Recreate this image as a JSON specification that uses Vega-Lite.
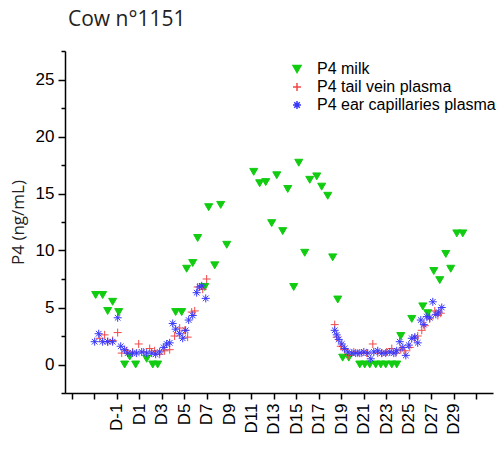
{
  "$schema": "https://vega.github.io/schema/vega-lite/v6.json",
  "autosize": "none",
  "width": 428,
  "height": 342,
  "padding": {"left": 65, "top": 51, "right": 10, "bottom": 56},
  "background": "white",
  "config": {"view": {"stroke": null}, "font": "Liberation Sans"},
  "title": {"text": "Cow n°1151", "anchor": "start", "frame": "group", "dx": 3, "offset": 12, "font": "Open Sans", "fontSize": 21, "fontWeight": "normal", "color": "#222222"},
  "data": {"values": [
    {"series": "P4 milk", "day": -2.87, "p4": 6.1},
    {"series": "P4 milk", "day": -2.25, "p4": 6.1},
    {"series": "P4 milk", "day": -1.80, "p4": 4.7},
    {"series": "P4 milk", "day": -1.36, "p4": 5.5},
    {"series": "P4 milk", "day": -0.82, "p4": 4.6},
    {"series": "P4 milk", "day": -0.29, "p4": 0},
    {"series": "P4 milk", "day": 0.16, "p4": 0.7},
    {"series": "P4 milk", "day": 0.69, "p4": 0},
    {"series": "P4 milk", "day": 1.67, "p4": 0.5},
    {"series": "P4 milk", "day": 2.21, "p4": 0},
    {"series": "P4 milk", "day": 2.65, "p4": 0},
    {"series": "P4 milk", "day": 4.25, "p4": 4.6},
    {"series": "P4 milk", "day": 4.79, "p4": 4.6},
    {"series": "P4 milk", "day": 5.23, "p4": 8.4},
    {"series": "P4 milk", "day": 5.77, "p4": 8.9},
    {"series": "P4 milk", "day": 6.21, "p4": 11.1},
    {"series": "P4 milk", "day": 6.84, "p4": 6.8},
    {"series": "P4 milk", "day": 7.19, "p4": 13.8},
    {"series": "P4 milk", "day": 7.73, "p4": 8.7},
    {"series": "P4 milk", "day": 8.26, "p4": 14.0},
    {"series": "P4 milk", "day": 8.80, "p4": 10.5},
    {"series": "P4 milk", "day": 11.20, "p4": 16.9},
    {"series": "P4 milk", "day": 11.73, "p4": 15.9},
    {"series": "P4 milk", "day": 12.27, "p4": 16.0},
    {"series": "P4 milk", "day": 12.80, "p4": 12.4},
    {"series": "P4 milk", "day": 13.25, "p4": 16.6},
    {"series": "P4 milk", "day": 13.78, "p4": 11.7},
    {"series": "P4 milk", "day": 14.23, "p4": 15.4},
    {"series": "P4 milk", "day": 14.76, "p4": 6.8},
    {"series": "P4 milk", "day": 15.21, "p4": 17.7},
    {"series": "P4 milk", "day": 15.74, "p4": 9.8},
    {"series": "P4 milk", "day": 16.19, "p4": 16.2},
    {"series": "P4 milk", "day": 16.81, "p4": 16.5},
    {"series": "P4 milk", "day": 17.25, "p4": 15.6},
    {"series": "P4 milk", "day": 17.79, "p4": 14.8},
    {"series": "P4 milk", "day": 18.23, "p4": 9.4},
    {"series": "P4 milk", "day": 18.68, "p4": 5.7},
    {"series": "P4 milk", "day": 19.12, "p4": 0.6},
    {"series": "P4 milk", "day": 19.66, "p4": 0.6},
    {"series": "P4 milk", "day": 20.64, "p4": 0},
    {"series": "P4 milk", "day": 21.08, "p4": 0},
    {"series": "P4 milk", "day": 21.53, "p4": 0},
    {"series": "P4 milk", "day": 22.06, "p4": 0},
    {"series": "P4 milk", "day": 22.51, "p4": 0},
    {"series": "P4 milk", "day": 22.95, "p4": 0},
    {"series": "P4 milk", "day": 23.49, "p4": 0},
    {"series": "P4 milk", "day": 23.93, "p4": 0},
    {"series": "P4 milk", "day": 24.29, "p4": 2.5},
    {"series": "P4 milk", "day": 25.27, "p4": 4.0},
    {"series": "P4 milk", "day": 26.25, "p4": 5.1},
    {"series": "P4 milk", "day": 26.69, "p4": 4.5},
    {"series": "P4 milk", "day": 27.23, "p4": 8.2},
    {"series": "P4 milk", "day": 27.76, "p4": 7.4},
    {"series": "P4 milk", "day": 28.30, "p4": 9.7},
    {"series": "P4 milk", "day": 28.74, "p4": 8.4},
    {"series": "P4 milk", "day": 29.28, "p4": 11.5},
    {"series": "P4 milk", "day": 29.81, "p4": 11.5},

    {"series": "P4 tail vein plasma", "day": -2.51, "p4": 2.3},
    {"series": "P4 tail vein plasma", "day": -2.07, "p4": 2.6},
    {"series": "P4 tail vein plasma", "day": -1.80, "p4": 2.0},
    {"series": "P4 tail vein plasma", "day": -1.36, "p4": 2.1},
    {"series": "P4 tail vein plasma", "day": -0.91, "p4": 2.8},
    {"series": "P4 tail vein plasma", "day": -0.55, "p4": 1.0},
    {"series": "P4 tail vein plasma", "day": -0.11, "p4": 1.2},
    {"series": "P4 tail vein plasma", "day": 0.42, "p4": 1.1},
    {"series": "P4 tail vein plasma", "day": 0.96, "p4": 1.8},
    {"series": "P4 tail vein plasma", "day": 1.40, "p4": 1.1},
    {"series": "P4 tail vein plasma", "day": 1.94, "p4": 1.4},
    {"series": "P4 tail vein plasma", "day": 2.38, "p4": 1.2},
    {"series": "P4 tail vein plasma", "day": 2.83, "p4": 0.9},
    {"series": "P4 tail vein plasma", "day": 3.27, "p4": 1.2},
    {"series": "P4 tail vein plasma", "day": 3.72, "p4": 1.3},
    {"series": "P4 tail vein plasma", "day": 4.16, "p4": 2.5},
    {"series": "P4 tail vein plasma", "day": 4.61, "p4": 3.2},
    {"series": "P4 tail vein plasma", "day": 5.06, "p4": 3.0},
    {"series": "P4 tail vein plasma", "day": 5.32, "p4": 2.4},
    {"series": "P4 tail vein plasma", "day": 5.68, "p4": 4.6},
    {"series": "P4 tail vein plasma", "day": 5.95, "p4": 4.7},
    {"series": "P4 tail vein plasma", "day": 6.21, "p4": 6.8},
    {"series": "P4 tail vein plasma", "day": 6.66, "p4": 6.6},
    {"series": "P4 tail vein plasma", "day": 7.01, "p4": 7.5},
    {"series": "P4 tail vein plasma", "day": 18.41, "p4": 3.5},
    {"series": "P4 tail vein plasma", "day": 18.59, "p4": 2.4},
    {"series": "P4 tail vein plasma", "day": 18.95, "p4": 1.6},
    {"series": "P4 tail vein plasma", "day": 19.30, "p4": 1.3},
    {"series": "P4 tail vein plasma", "day": 19.66, "p4": 0.8},
    {"series": "P4 tail vein plasma", "day": 20.11, "p4": 1.1},
    {"series": "P4 tail vein plasma", "day": 20.46, "p4": 1.0},
    {"series": "P4 tail vein plasma", "day": 20.82, "p4": 1.0},
    {"series": "P4 tail vein plasma", "day": 21.26, "p4": 1.0},
    {"series": "P4 tail vein plasma", "day": 21.80, "p4": 1.8},
    {"series": "P4 tail vein plasma", "day": 22.24, "p4": 1.0},
    {"series": "P4 tail vein plasma", "day": 22.60, "p4": 1.0},
    {"series": "P4 tail vein plasma", "day": 23.04, "p4": 1.1},
    {"series": "P4 tail vein plasma", "day": 23.49, "p4": 1.4},
    {"series": "P4 tail vein plasma", "day": 23.85, "p4": 1.0},
    {"series": "P4 tail vein plasma", "day": 24.29, "p4": 1.3},
    {"series": "P4 tail vein plasma", "day": 24.65, "p4": 1.2},
    {"series": "P4 tail vein plasma", "day": 25.09, "p4": 1.5},
    {"series": "P4 tail vein plasma", "day": 25.54, "p4": 2.3},
    {"series": "P4 tail vein plasma", "day": 25.80, "p4": 2.5},
    {"series": "P4 tail vein plasma", "day": 26.16, "p4": 3.0},
    {"series": "P4 tail vein plasma", "day": 26.43, "p4": 3.4},
    {"series": "P4 tail vein plasma", "day": 26.87, "p4": 4.0},
    {"series": "P4 tail vein plasma", "day": 27.32, "p4": 4.7},
    {"series": "P4 tail vein plasma", "day": 27.59, "p4": 4.3},
    {"series": "P4 tail vein plasma", "day": 27.85, "p4": 4.5},

    {"series": "P4 ear capillaries plasma", "day": -2.96, "p4": 2.0},
    {"series": "P4 ear capillaries plasma", "day": -2.60, "p4": 2.7},
    {"series": "P4 ear capillaries plasma", "day": -2.25, "p4": 2.0},
    {"series": "P4 ear capillaries plasma", "day": -1.80, "p4": 2.0},
    {"series": "P4 ear capillaries plasma", "day": -1.36, "p4": 2.0},
    {"series": "P4 ear capillaries plasma", "day": -0.91, "p4": 4.1},
    {"series": "P4 ear capillaries plasma", "day": -0.64, "p4": 1.6},
    {"series": "P4 ear capillaries plasma", "day": -0.29, "p4": 1.3},
    {"series": "P4 ear capillaries plasma", "day": -0.02, "p4": 1.0},
    {"series": "P4 ear capillaries plasma", "day": 0.42, "p4": 1.0},
    {"series": "P4 ear capillaries plasma", "day": 0.78, "p4": 1.0},
    {"series": "P4 ear capillaries plasma", "day": 1.23, "p4": 1.1},
    {"series": "P4 ear capillaries plasma", "day": 1.67, "p4": 1.0},
    {"series": "P4 ear capillaries plasma", "day": 2.12, "p4": 1.0},
    {"series": "P4 ear capillaries plasma", "day": 2.47, "p4": 0.9},
    {"series": "P4 ear capillaries plasma", "day": 2.83, "p4": 1.1},
    {"series": "P4 ear capillaries plasma", "day": 3.19, "p4": 1.5},
    {"series": "P4 ear capillaries plasma", "day": 3.45, "p4": 1.8},
    {"series": "P4 ear capillaries plasma", "day": 3.72, "p4": 1.9},
    {"series": "P4 ear capillaries plasma", "day": 3.99, "p4": 3.6},
    {"series": "P4 ear capillaries plasma", "day": 4.25, "p4": 3.1},
    {"series": "P4 ear capillaries plasma", "day": 4.61, "p4": 2.7},
    {"series": "P4 ear capillaries plasma", "day": 4.88, "p4": 2.3},
    {"series": "P4 ear capillaries plasma", "day": 5.14, "p4": 3.0},
    {"series": "P4 ear capillaries plasma", "day": 5.41, "p4": 3.9},
    {"series": "P4 ear capillaries plasma", "day": 5.77, "p4": 4.3},
    {"series": "P4 ear capillaries plasma", "day": 6.12, "p4": 6.3},
    {"series": "P4 ear capillaries plasma", "day": 6.39, "p4": 6.8},
    {"series": "P4 ear capillaries plasma", "day": 6.57, "p4": 6.9},
    {"series": "P4 ear capillaries plasma", "day": 6.93, "p4": 5.8},
    {"series": "P4 ear capillaries plasma", "day": 18.41, "p4": 3.0},
    {"series": "P4 ear capillaries plasma", "day": 18.59, "p4": 2.6},
    {"series": "P4 ear capillaries plasma", "day": 18.77, "p4": 2.2},
    {"series": "P4 ear capillaries plasma", "day": 19.04, "p4": 1.8},
    {"series": "P4 ear capillaries plasma", "day": 19.30, "p4": 1.4},
    {"series": "P4 ear capillaries plasma", "day": 19.57, "p4": 1.1},
    {"series": "P4 ear capillaries plasma", "day": 19.93, "p4": 1.0},
    {"series": "P4 ear capillaries plasma", "day": 20.28, "p4": 1.0},
    {"series": "P4 ear capillaries plasma", "day": 20.64, "p4": 1.0},
    {"series": "P4 ear capillaries plasma", "day": 21.00, "p4": 1.1},
    {"series": "P4 ear capillaries plasma", "day": 21.35, "p4": 1.0},
    {"series": "P4 ear capillaries plasma", "day": 21.62, "p4": 0.5},
    {"series": "P4 ear capillaries plasma", "day": 21.89, "p4": 1.1},
    {"series": "P4 ear capillaries plasma", "day": 22.24, "p4": 1.2},
    {"series": "P4 ear capillaries plasma", "day": 22.60, "p4": 1.0},
    {"series": "P4 ear capillaries plasma", "day": 22.95, "p4": 1.0},
    {"series": "P4 ear capillaries plasma", "day": 23.31, "p4": 1.1},
    {"series": "P4 ear capillaries plasma", "day": 23.67, "p4": 1.0},
    {"series": "P4 ear capillaries plasma", "day": 23.93, "p4": 1.2},
    {"series": "P4 ear capillaries plasma", "day": 24.20, "p4": 2.0},
    {"series": "P4 ear capillaries plasma", "day": 24.47, "p4": 1.5},
    {"series": "P4 ear capillaries plasma", "day": 24.74, "p4": 0.8},
    {"series": "P4 ear capillaries plasma", "day": 25.00, "p4": 1.7},
    {"series": "P4 ear capillaries plasma", "day": 25.27, "p4": 2.3},
    {"series": "P4 ear capillaries plasma", "day": 25.54, "p4": 2.4},
    {"series": "P4 ear capillaries plasma", "day": 25.80, "p4": 1.9},
    {"series": "P4 ear capillaries plasma", "day": 26.07, "p4": 3.9},
    {"series": "P4 ear capillaries plasma", "day": 26.34, "p4": 3.5},
    {"series": "P4 ear capillaries plasma", "day": 26.61, "p4": 4.2},
    {"series": "P4 ear capillaries plasma", "day": 26.87, "p4": 4.1},
    {"series": "P4 ear capillaries plasma", "day": 27.14, "p4": 5.5},
    {"series": "P4 ear capillaries plasma", "day": 27.41, "p4": 4.4},
    {"series": "P4 ear capillaries plasma", "day": 27.67, "p4": 4.6},
    {"series": "P4 ear capillaries plasma", "day": 27.94, "p4": 5.0}
  ]},
  "mark": {"type": "point", "size": 64, "strokeWidth": 1, "opacity": 1},
  "encoding": {
    "x": {"field": "day", "type": "quantitative",
      "scale": {"domain": [-5.6, 32.5], "nice": false, "zero": false},
      "axis": {"title": null, "values": [-5,-3,-1,1,3,5,7,9,11,13,15,17,19,21,23,25,27,29,31],
        "labelExpr": "datum.value < -1 || datum.value > 29 ? '' : 'D' + datum.value",
        "labelAngle": -90, "labelAlign": "right", "labelBaseline": "middle", "labelFontSize": 17, "labelColor": "black", "labelPadding": 4,
        "domainColor": "black", "domainWidth": 1.5, "tickColor": "black", "tickWidth": 1.5, "tickSize": 6, "grid": false, "labelFlush": false, "labelOverlap": false}},
    "y": {"field": "p4", "type": "quantitative",
      "scale": {"domain": [-2.5, 27.5], "nice": false, "zero": false},
      "axis": {"title": "P4 (ng/mL)", "titleFont": "Open Sans", "titleFontSize": 17, "titleFontWeight": "normal", "titleColor": "#222222", "titlePadding": 8,
        "values": [-2.5, 0, 2.5, 5, 7.5, 10, 12.5, 15, 17.5, 20, 22.5, 25, 27.5],
        "labelExpr": "datum.value % 5 === 0 ? datum.value : ''",
        "tickSize": {"condition": {"test": "datum.value % 5 === 0", "value": 7}, "value": 4},
        "labelFontSize": 17, "labelColor": "black", "labelPadding": 4,
        "domainColor": "black", "domainWidth": 1.5, "tickColor": "black", "tickWidth": 1.5, "grid": false, "labelFlush": false, "labelOverlap": false}},
    "shape": {"field": "series", "type": "nominal",
      "scale": {"domain": ["P4 milk", "P4 tail vein plasma", "P4 ear capillaries plasma"],
        "range": ["triangle-down", "M-1,0L1,0M0,-1L0,1", "M-1,0L1,0M0,-1L0,1M-0.7,-0.7L0.7,0.7M-0.7,0.7L0.7,-0.7"]},
      "legend": {"title": null, "orient": "none", "legendX": 224, "legendY": 10, "labelFontSize": 16, "labelColor": "black", "labelFont": "Liberation Sans", "labelLimit": 400, "rowPadding": 2, "symbolSize": 64, "padding": 0, "labelOffset": 12}},
    "fill": {"field": "series", "type": "nominal",
      "scale": {"domain": ["P4 milk", "P4 tail vein plasma", "P4 ear capillaries plasma"], "range": ["#11cc11", "transparent", "transparent"]},
      "legend": {"title": null, "orient": "none", "legendX": 224, "legendY": 10, "labelFontSize": 16, "labelColor": "black", "labelFont": "Liberation Sans", "labelLimit": 400, "rowPadding": 2, "symbolSize": 64, "padding": 0, "labelOffset": 12}},
    "stroke": {"field": "series", "type": "nominal",
      "scale": {"domain": ["P4 milk", "P4 tail vein plasma", "P4 ear capillaries plasma"], "range": ["#11cc11", "#f04848", "#3838ff"]},
      "legend": {"title": null, "orient": "none", "legendX": 224, "legendY": 10, "labelFontSize": 16, "labelColor": "black", "labelFont": "Liberation Sans", "labelLimit": 400, "rowPadding": 2, "symbolSize": 64, "padding": 0, "labelOffset": 12}}
  }
}
